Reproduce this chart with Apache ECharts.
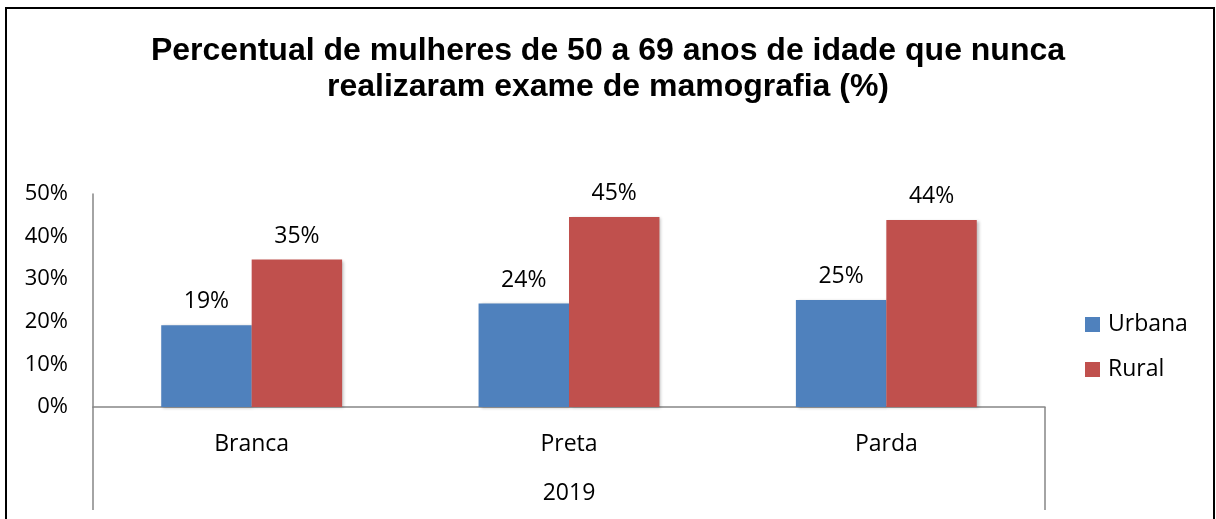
<!DOCTYPE html>
<html>
<head>
<meta charset="utf-8">
<script src="https://cdn.jsdelivr.net/npm/echarts@6/dist/echarts.min.js"></script>
<style>
  html, body { margin: 0; padding: 0; background: #fff; }
  #chart { width: 1216px; height: 519px; }
</style>
</head>
<body>
<div id="chart"></div>
<script>
var categories = ['Branca', 'Preta', 'Parda'];
var groupLabel = ['2019'];
var urbana = [19.2, 24.3, 25.1];
var rural = [34.6, 44.6, 43.9];
var seriesNames = ['Urbana', 'Rural'];

var axisGrey = '#868686';
var labelFont = '"Open Sans", sans-serif';

var myChart = echarts.init(document.getElementById('chart'));

function barLabel() {
    return {
        show: true,
        position: 'top',
        distance: 12,
        color: '#000',
        fontFamily: labelFont,
        fontSize: 23,
        formatter: function(p) { return Math.round(p.value) + '%'; }
    };
}

var option = {
    backgroundColor: '#fff',
    animation: false,
    color: ['#4F81BD', '#C0504D'],
    title: {
        text: 'Percentual de mulheres de 50 a 69 anos de idade que nunca\nrealizaram exame de mamografia (%)',
        left: 'center',
        top: 28,
        textStyle: {
            color: '#000',
            fontFamily: '"Liberation Sans", Arial, sans-serif',
            fontWeight: 'bold',
            fontSize: 32,
            lineHeight: 36
        }
    },
    legend: {
        orient: 'vertical',
        left: 1080,
        top: 308,
        icon: 'rect',
        itemWidth: 15,
        itemHeight: 15,
        itemGap: 22,
        itemStyle: { borderWidth: 0 },
        textStyle: { fontFamily: labelFont, fontSize: 23, color: '#000', padding: [0, 0, 0, 3] },
        data: seriesNames
    },
    grid: {
        left: 93,
        right: 171,
        top: 194,
        bottom: 112,
        containLabel: false
    },
    xAxis: [{
        type: 'category',
        data: categories,
        axisLine: { lineStyle: { color: axisGrey, width: 1.5 } },
        axisTick: { show: false },
        axisLabel: { margin: 26, color: '#000', fontFamily: labelFont, fontSize: 23 }
    }, {
        type: 'category',
        data: groupLabel,
        position: 'bottom',
        axisLine: { show: false },
        axisTick: { show: true, length: 103, lineStyle: { color: axisGrey, width: 1.5 } },
        axisLabel: { margin: 75, color: '#000', fontFamily: labelFont, fontSize: 23 }
    }],
    yAxis: {
        type: 'value',
        min: 0,
        max: 50,
        interval: 10,
        axisLine: { show: true, lineStyle: { color: axisGrey, width: 1.5 } },
        axisTick: { show: false },
        splitLine: { show: false },
        axisLabel: {
            margin: 25,
            color: '#000',
            fontFamily: labelFont,
            fontSize: 22,
            formatter: '{value}%'
        }
    },
    series: [{
        name: seriesNames[0],
        type: 'bar',
        data: urbana,
        barGap: '0%',
        barCategoryGap: '43%',
        label: barLabel(),
        itemStyle: { shadowColor: 'rgba(0,0,0,0.25)', shadowBlur: 3, shadowOffsetX: 2, shadowOffsetY: 1 }
    }, {
        name: seriesNames[1],
        type: 'bar',
        data: rural,
        barGap: '0%',
        barCategoryGap: '43%',
        label: barLabel(),
        itemStyle: { shadowColor: 'rgba(0,0,0,0.25)', shadowBlur: 3, shadowOffsetX: 2, shadowOffsetY: 1 }
    }],
    graphic: [{
        type: 'rect',
        silent: true,
        shape: { x: 6, y: 8, width: 1208, height: 530 },
        style: { fill: 'none', stroke: '#000', lineWidth: 2 }
    }]
};

myChart.setOption(option);
</script>
</body>
</html>
